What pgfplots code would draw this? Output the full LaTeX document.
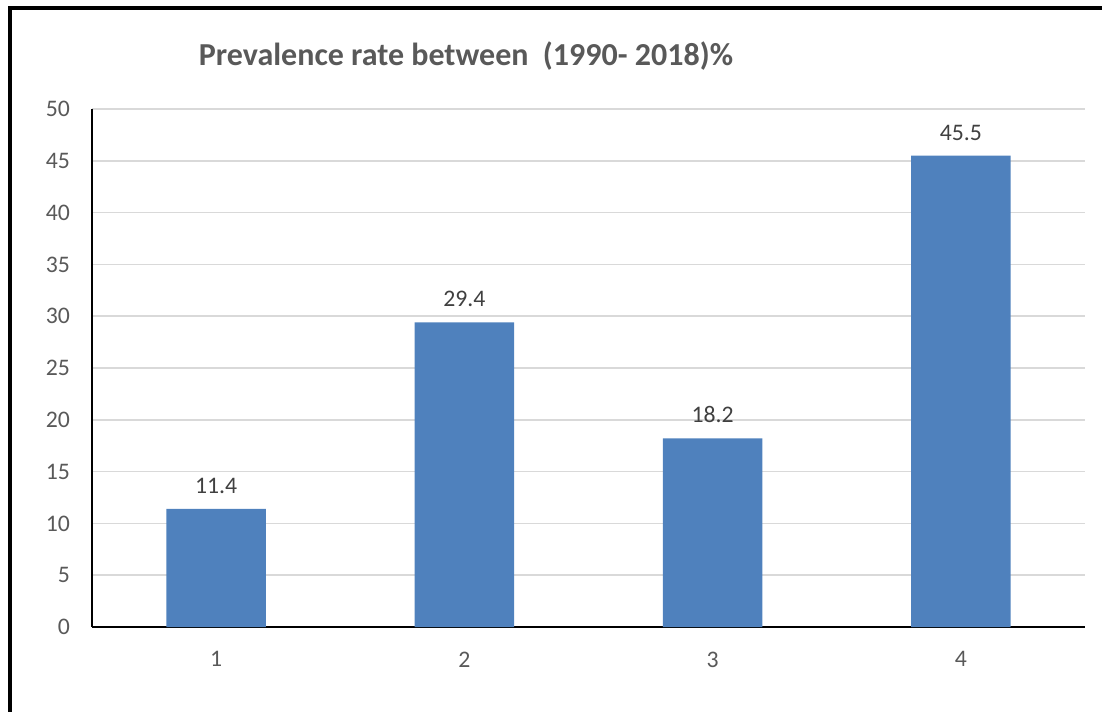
\documentclass[border=0pt]{standalone}
\usepackage{fontspec}
\setmainfont{Carlito}
\usepackage{pgfplots}
\pgfplotsset{compat=1.18}
\definecolor{barblue}{HTML}{4F81BD}
\definecolor{txtgray}{HTML}{595959}
\definecolor{lblgray}{HTML}{404040}
\definecolor{gridgray}{HTML}{D9D9D9}
\begin{document}
\begin{tikzpicture}[x=0.75pt,y=0.75pt]
\useasboundingbox (0,0) rectangle (1102,711);
% outer frame
\draw[line width=2.4pt,black] (10,-5) -- (10,703) -- (1110,703);
\begin{axis}[
  at={(92*0.75pt,84*0.75pt)}, anchor=origin,
  scale only axis,
  width=744.75pt, height=388.5pt,
  xmin=0.5, xmax=4.5, ymin=0, ymax=50,
  ytick={0,5,...,50},
  xtick={1,2,3,4},
  axis x line*=bottom, axis y line*=left,
  axis line style={black,line width=1.5pt,-},
  ymajorgrids, grid style={gridgray,line width=1.1pt},
  major tick length=0pt,
  tick style={draw=none},
  /pgf/number format/assume math mode=true,
  ticklabel style={font=\fontsize{17.8}{20}\selectfont, text=txtgray},
  yticklabel style={xshift=-13pt},
  xticklabel style={yshift=-15pt},
  ybar, bar width=0.4,
  nodes near coords,
  nodes near coords style={font=\fontsize{17.8}{20}\selectfont, text=lblgray, anchor=south, yshift=8pt},
  every node near coord/.append style={/pgf/number format/fixed,/pgf/number format/precision=1,/pgf/number format/assume math mode=true},
  clip=false,
]
\addplot[fill=barblue, draw=none] coordinates {(1,11.4) (2,29.4) (3,18.2) (4,45.5)};
\end{axis}
\node[font=\bfseries\fontsize{24}{28}\selectfont, text=txtgray] at (466,655) {Prevalence rate between\ \ (1990- 2018)\%};
\end{tikzpicture}
\end{document}
